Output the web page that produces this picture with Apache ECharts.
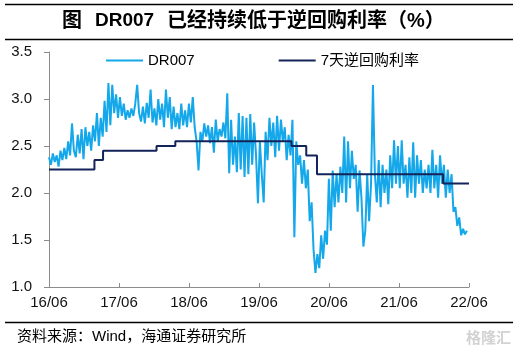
<!DOCTYPE html>
<html>
<head>
<meta charset="utf-8">
<script src="https://cdn.jsdelivr.net/npm/echarts@6/dist/echarts.min.js"></script>
<style>
html, body { margin: 0; padding: 0; background: #fff; }
#chart { width: 525px; height: 351px; }
</style>
</head>
<body>
<div id="chart"></div>
<script>
var startDate = Date.parse('2016-06-01');
var endDate = Date.parse('2022-06-01');
var dayMs = 86400000;
var stepDays = 10; // DR007 every ~10 days

var xLabels = ['16/06', '17/06', '18/06', '19/06', '20/06', '21/06', '22/06'];

var dr007 = [
    // 2016-06 .. 2017-05
    2.38, 2.30, 2.42, 2.33, 2.40, 2.28, 2.45, 2.35, 2.48,
    2.36, 2.55, 2.40, 2.74, 2.45, 2.38,
    2.62, 2.42, 2.68, 2.36, 2.70, 2.50,
    2.65, 2.45, 2.72, 2.55, 2.85, 2.50,
    2.80, 2.60, 2.98, 2.65, 3.17, 2.72,
    3.15, 2.85, 3.05, 2.80,
    // 2017-06 .. 2018-05
    3.02, 2.82, 2.95, 2.78, 2.88, 2.80,
    2.90, 2.82, 2.95, 3.15, 2.85, 2.76,
    2.92, 2.74, 2.96, 2.80, 3.10, 2.75,
    2.90, 2.72, 3.00, 2.78, 2.95, 2.70,
    3.10, 2.80, 3.02, 2.68, 2.92, 2.70,
    2.85, 2.68, 2.95, 2.72, 2.88, 2.70,
    // 2018-06 .. 2019-05
    2.95, 2.75, 3.02, 2.70, 2.55, 2.24,
    2.65, 2.55, 2.74, 2.60, 2.72, 2.53,
    2.70, 2.43, 2.78, 2.55, 2.68, 2.60,
    2.75, 2.58, 3.06, 2.21, 2.78, 2.30,
    2.60, 2.22, 2.85, 2.25, 2.82, 2.17,
    2.80, 2.20, 2.84, 2.30, 2.75, 2.40,
    // 2019-06 .. 2020-05
    1.89, 2.55, 2.20, 1.90, 2.65, 2.35,
    2.80, 2.50, 2.75, 2.38, 2.82, 2.45,
    2.78, 2.55, 2.70, 2.35, 2.62, 2.40,
    2.78, 1.53, 2.55, 2.30, 2.40, 2.10,
    2.35, 2.05, 2.25, 1.70, 1.90, 1.40,
    1.15, 1.35, 1.20, 1.55, 1.30, 1.60, 1.45,
    // 2020-06 .. 2021-05
    2.15, 1.60, 2.24, 1.85, 2.20, 1.90,
    2.28, 2.00, 2.60, 1.90, 2.55, 2.05,
    2.45, 2.15, 2.30, 1.80, 2.24, 1.95,
    1.43, 1.60, 2.20, 1.70, 2.10, 3.15,
    2.20, 1.90, 2.35, 1.85, 2.30, 2.00,
    2.25, 1.88, 2.40, 2.05, 2.56, 2.10,
    // 2021-06 .. 2022-05
    2.50, 2.05, 2.56, 2.10, 2.30, 1.95,
    2.38, 2.00, 2.54, 1.95, 2.40, 2.10,
    2.35, 2.00, 2.25, 2.05, 2.30, 2.00,
    2.46, 2.05, 2.30, 1.95, 2.40, 2.10,
    2.30, 1.95, 2.25, 2.00, 2.20, 1.80,
    1.85, 1.65, 1.74, 1.55, 1.62, 1.56, 1.60
];

var repoDates = ['2016-06-01', '2017-01-24', '2017-03-10', '2017-12-14', '2018-03-22',
                 '2019-11-18', '2020-02-03', '2020-03-30', '2022-01-17', '2022-06-01'];
var repoRates = [2.25, 2.35, 2.45, 2.50, 2.55, 2.50, 2.40, 2.20, 2.10, 2.10];

var dr007Data = dr007.map(function (v, i) {
    return [startDate + i * stepDays * dayMs, v];
});
var repoData = repoDates.map(function (d, i) {
    return [Date.parse(d), repoRates[i]];
});

var latinCjk = '"Liberation Sans", Arial, "Noto Sans CJK SC", sans-serif';
var titleFont = 'bold 20px ' + latinCjk;

var chart = echarts.init(document.getElementById('chart'));

chart.setOption({
    backgroundColor: '#fff',
    animation: false,
    textStyle: { fontFamily: latinCjk },
    legend: {
        left: 101,
        top: 48,
        itemWidth: 37,
        itemHeight: 2,
        itemGap: 84,
        icon: 'rect',
        textStyle: { fontSize: 15, color: '#000' },
        data: ['DR007', '7天逆回购利率']
    },
    grid: { left: 49, right: 56, top: 52, bottom: 64 },
    xAxis: {
        type: 'value',
        min: startDate,
        max: endDate,
        interval: (endDate - startDate) / 6,
        axisLine: { lineStyle: { color: '#8c8c8c', width: 1 } },
        axisTick: { show: true, inside: true, length: 4, lineStyle: { color: '#8c8c8c' } },
        splitLine: { show: false },
        axisLabel: {
            margin: 8,
            fontSize: 15,
            color: '#111',
            formatter: function (v) {
                return xLabels[Math.round((v - startDate) / ((endDate - startDate) / 6))];
            }
        }
    },
    yAxis: {
        type: 'value',
        min: 1,
        max: 3.5,
        interval: 0.5,
        axisLine: { show: true, lineStyle: { color: '#8c8c8c', width: 1 } },
        axisTick: { show: true, length: 5, lineStyle: { color: '#8c8c8c' } },
        splitLine: { show: false },
        axisLabel: {
            margin: 17,
            fontSize: 15,
            color: '#111',
            formatter: function (v) { return v.toFixed(1); }
        }
    },
    series: [
        {
            name: 'DR007',
            type: 'line',
            data: dr007Data,
            symbol: 'none',
            color: '#14a7ea',
            lineStyle: { width: 2, color: '#14a7ea' }
        },
        {
            name: '7天逆回购利率',
            type: 'line',
            data: repoData,
            step: 'end',
            symbol: 'none',
            color: '#14235a',
            lineStyle: { width: 2, color: '#14235a' },
            z: 3
        }
    ],
    graphic: [
        { type: 'line', shape: { x1: 5, y1: 4.5, x2: 513, y2: 4.5 }, style: { stroke: '#000', lineWidth: 1.5 } },
        { type: 'line', shape: { x1: 5, y1: 39.5, x2: 513, y2: 39.5 }, style: { stroke: '#000', lineWidth: 1.5 } },
        { type: 'line', shape: { x1: 5, y1: 322.5, x2: 513, y2: 322.5 }, style: { stroke: '#000', lineWidth: 1.5 } },
        // title, in three pieces to match the wide spacing of the original
        { type: 'text', left: 62, top: 11, style: { text: '图', fill: '#000', font: titleFont } },
        { type: 'text', left: 95, top: 11, style: { text: 'DR007', fill: '#000', font: 'bold 19px ' + latinCjk } },
        { type: 'text', left: 167, top: 11, style: { text: '已经持续低于逆回购利率（%）', fill: '#000', font: titleFont } },
        {
            type: 'text', left: 17, top: 329,
            style: { text: '资料来源：Wind，海通证券研究所', fill: '#000', font: '15px ' + latinCjk }
        },
        {
            type: 'text', right: 14, top: 330,
            style: { text: '格隆汇', fill: '#d2d2d2', font: 'bold 15px "Noto Sans CJK SC", sans-serif' }
        }
    ]
});
</script>
</body>
</html>
